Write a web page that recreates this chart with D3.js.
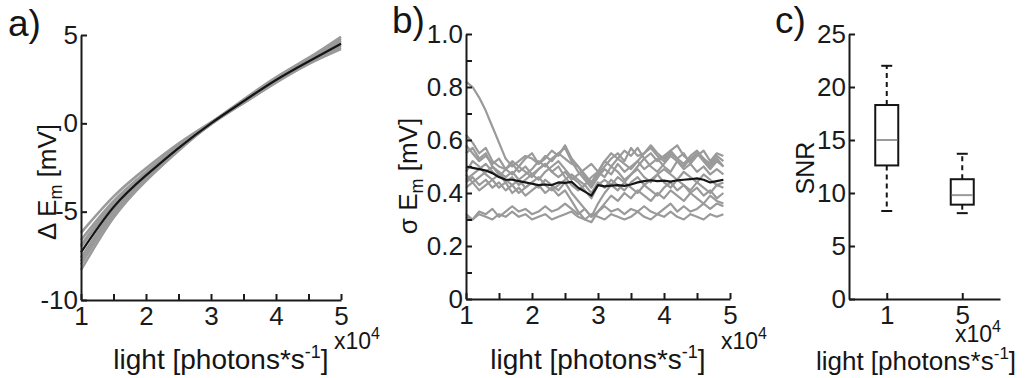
<!DOCTYPE html>
<html>
<head>
<meta charset="utf-8">
<script src="https://cdn.jsdelivr.net/npm/d3@7"></script>
<style>
body { margin: 0; background: #fff; }
svg { font-family: "Liberation Sans", Arial, sans-serif; }
.axis path, .axis line { stroke: #1a1a1a; stroke-width: 2; }
.axis text { font-size: 26px; fill: #1a1a1a; font-family: "Liberation Sans", Arial, sans-serif; }
</style>
</head>
<body>
<svg id="fig" width="1026" height="378"></svg>
<script>
// ---- panel a: mean change of Em vs light ----
var lightA = [1, 1.5, 2, 2.5, 3, 3.5, 4, 4.5, 5];
var meanA = [-7.3, -4.75, -2.95, -1.4, 0, 1.25, 2.45, 3.5, 4.5];
var tracesA = [
    [-6.2, -4.15, -2.55, -1.15, 0.05, 1.2, 2.35, 3.4, 4.4],
    [-6.6, -4.4, -2.75, -1.25, 0.0, 1.25, 2.45, 3.5, 4.6],
    [-7.0, -4.6, -2.85, -1.35, 0.0, 1.3, 2.55, 3.6, 4.7],
    [-7.6, -4.95, -3.05, -1.45, -0.05, 1.25, 2.5, 3.6, 4.8],
    [-8.0, -5.15, -3.15, -1.5, 0.0, 1.2, 2.4, 3.5, 4.5],
    [-8.3, -5.35, -3.25, -1.55, -0.05, 1.15, 2.35, 3.4, 4.3],
    [-6.9, -4.5, -2.8, -1.3, 0.05, 1.35, 2.6, 3.7, 4.9],
    [-7.8, -5.05, -3.1, -1.45, 0.0, 1.15, 2.3, 3.35, 4.2]
];
var xTicksA = [1, 1.5, 2, 2.5, 3, 3.5, 4, 4.5, 5];
var xLabelsA = ["1", "", "2", "", "3", "", "4", "", "5"];
var yTicksA = [-10, -5, 0, 5];
var yLabelsA = ["-10", "-5", "0", "5"];

// ---- panel b: sd of Em vs light ----
var lightB = [1.0, 1.1, 1.2, 1.3, 1.4, 1.5, 1.6, 1.7, 1.8, 1.9,
              2.0, 2.1, 2.2, 2.3, 2.4, 2.5, 2.6, 2.7, 2.8, 2.9,
              3.0, 3.1, 3.2, 3.3, 3.4, 3.5, 3.6, 3.7, 3.8, 3.9,
              4.0, 4.1, 4.2, 4.3, 4.4, 4.5, 4.6, 4.7, 4.8, 4.9];
var meanB = [0.50, 0.495, 0.49, 0.485, 0.475, 0.46, 0.45, 0.45, 0.445, 0.44,
             0.435, 0.43, 0.432, 0.43, 0.44, 0.438, 0.442, 0.42, 0.405, 0.39,
             0.43, 0.425, 0.428, 0.43, 0.427, 0.432, 0.44, 0.445, 0.448, 0.445,
             0.447, 0.443, 0.448, 0.45, 0.452, 0.455, 0.45, 0.44, 0.445, 0.45];
var tracesB = [
    [0.82,0.80,0.76,0.71,0.65,0.59,0.53,0.50,0.52,0.54,0.53,0.51,0.54,0.52,0.55,0.53,0.51,0.50,0.47,0.44,0.48,0.52,0.55,0.53,0.56,0.54,0.57,0.53,0.55,0.52,0.54,0.56,0.53,0.55,0.51,0.54,0.56,0.52,0.55,0.54],
    [0.62,0.59,0.55,0.57,0.52,0.50,0.49,0.52,0.50,0.53,0.55,0.51,0.53,0.56,0.54,0.58,0.53,0.50,0.46,0.43,0.47,0.50,0.53,0.55,0.52,0.57,0.54,0.55,0.58,0.55,0.53,0.56,0.58,0.54,0.52,0.55,0.53,0.50,0.53,0.50],
    [0.55,0.57,0.53,0.55,0.50,0.48,0.46,0.48,0.45,0.47,0.49,0.52,0.50,0.53,0.55,0.57,0.52,0.48,0.45,0.42,0.46,0.49,0.47,0.51,0.48,0.50,0.52,0.49,0.51,0.53,0.50,0.48,0.52,0.49,0.51,0.48,0.50,0.47,0.49,0.47],
    [0.48,0.52,0.50,0.47,0.45,0.47,0.44,0.46,0.43,0.45,0.47,0.45,0.48,0.50,0.52,0.49,0.46,0.44,0.41,0.38,0.43,0.45,0.43,0.46,0.44,0.47,0.49,0.46,0.44,0.47,0.49,0.47,0.45,0.48,0.46,0.44,0.47,0.45,0.43,0.44],
    [0.45,0.47,0.49,0.51,0.48,0.46,0.49,0.47,0.50,0.48,0.46,0.49,0.51,0.48,0.50,0.46,0.43,0.41,0.43,0.40,0.44,0.42,0.45,0.43,0.41,0.44,0.46,0.43,0.45,0.47,0.44,0.42,0.45,0.43,0.41,0.44,0.42,0.40,0.43,0.42],
    [0.44,0.46,0.43,0.45,0.42,0.44,0.41,0.43,0.40,0.42,0.44,0.42,0.45,0.43,0.41,0.44,0.40,0.37,0.34,0.31,0.36,0.40,0.43,0.41,0.44,0.42,0.40,0.43,0.41,0.39,0.42,0.44,0.41,0.43,0.40,0.42,0.39,0.41,0.38,0.40],
    [0.42,0.44,0.41,0.43,0.45,0.42,0.44,0.40,0.42,0.39,0.41,0.43,0.40,0.42,0.39,0.41,0.37,0.33,0.30,0.29,0.33,0.36,0.39,0.37,0.40,0.38,0.41,0.39,0.37,0.40,0.38,0.41,0.39,0.37,0.40,0.38,0.36,0.39,0.37,0.36],
    [0.47,0.44,0.46,0.48,0.50,0.47,0.45,0.43,0.45,0.42,0.44,0.46,0.43,0.41,0.43,0.45,0.47,0.45,0.43,0.46,0.48,0.46,0.50,0.48,0.45,0.47,0.50,0.53,0.50,0.48,0.51,0.54,0.52,0.50,0.53,0.55,0.52,0.49,0.52,0.50],
    [0.32,0.30,0.33,0.32,0.34,0.31,0.33,0.35,0.33,0.34,0.32,0.33,0.35,0.33,0.34,0.36,0.34,0.32,0.34,0.31,0.33,0.35,0.33,0.34,0.32,0.34,0.33,0.35,0.33,0.32,0.34,0.36,0.33,0.35,0.33,0.34,0.36,0.34,0.36,0.35],
    [0.31,0.30,0.32,0.31,0.30,0.32,0.31,0.33,0.31,0.32,0.30,0.31,0.32,0.30,0.31,0.32,0.33,0.31,0.30,0.32,0.31,0.30,0.32,0.31,0.30,0.31,0.33,0.31,0.30,0.32,0.31,0.33,0.31,0.30,0.32,0.31,0.30,0.32,0.31,0.32],
    [0.58,0.55,0.52,0.54,0.51,0.53,0.49,0.51,0.48,0.50,0.47,0.49,0.51,0.48,0.46,0.48,0.45,0.47,0.49,0.51,0.48,0.52,0.50,0.53,0.51,0.49,0.52,0.55,0.57,0.54,0.52,0.55,0.53,0.51,0.54,0.56,0.53,0.51,0.54,0.52]
];
var xTicksB = [1, 1.5, 2, 2.5, 3, 3.5, 4, 4.5, 5];
var xLabelsB = ["1", "", "2", "", "3", "", "4", "", "5"];
var yTicksB = [0, 0.1, 0.2, 0.3, 0.4, 0.5, 0.6, 0.7, 0.8, 0.9, 1.0];
var yLabelsB = ["0", "", "0.2", "", "0.4", "", "0.6", "", "0.8", "", "1.0"];

// ---- panel c: SNR box plots ----
var boxCat = ["1", "5"];
var boxMin = [8.3, 8.1];
var boxQ1 = [12.6, 8.9];
var boxMed = [15.0, 9.8];
var boxQ3 = [18.3, 11.3];
var boxMax = [22.0, 13.7];
var yTicksC = [0, 5, 10, 15, 20, 25];

var svg = d3.select("#fig");
var grey = "#9a9a9a", dark = "#151515";

function fmt(ticks, labels) {
    return function(d) { return labels[ticks.indexOf(d)]; };
}

function xLabel(cx, y, size) {
    var t = svg.append("text").attr("x", cx).attr("y", y)
        .attr("text-anchor", "middle").style("font-size", size + "px").attr("fill", dark);
    t.append("tspan").text("light [photons*s");
    t.append("tspan").attr("dy", -11).style("font-size", Math.round(size * 0.66) + "px").text("-1");
    t.append("tspan").attr("dy", 11).text("]");
}

function expLabel(x, y) {
    var t = svg.append("text").attr("x", x).attr("y", y)
        .style("font-size", "23px").attr("fill", dark);
    t.append("tspan").text("x10");
    t.append("tspan").attr("dy", -10).style("font-size", "16px").text("4");
}

function yLabel(x, cy, sym) {
    var t = svg.append("text").attr("transform", "translate(" + x + "," + cy + ") rotate(-90)")
        .attr("text-anchor", "middle").style("font-size", "26px").attr("fill", dark);
    t.append("tspan").text(sym + " E");
    t.append("tspan").attr("dy", 6).style("font-size", "18px").text("m");
    t.append("tspan").attr("dy", -6).text(" [mV]");
}

function panelTag(x, y, s) {
    svg.append("text").attr("x", x).attr("y", y).style("font-size", "37px")
        .attr("fill", dark).text(s);
}

// panel a
var xa = d3.scaleLinear().domain([1, 5]).range([81, 341]);
var ya = d3.scaleLinear().domain([-10, 5]).range([300, 35]);
var lineA = d3.line()
    .x(function(d, i) { return xa(lightA[i]); })
    .y(function(d) { return ya(d); })
    .curve(d3.curveNatural);

svg.append("g").selectAll("path")
    .data(tracesA)
    .enter().append("path")
    .attr("d", lineA)
    .attr("fill", "none")
    .attr("stroke", grey)
    .attr("stroke-width", 2.6);

svg.append("path")
    .attr("d", lineA(meanA))
    .attr("fill", "none")
    .attr("stroke", dark)
    .attr("stroke-width", 2.2);

svg.append("g").attr("class", "axis")
    .attr("transform", "translate(0,300)")
    .call(d3.axisBottom(xa).tickValues(xTicksA).tickFormat(fmt(xTicksA, xLabelsA))
        .tickSizeInner(-6).tickSizeOuter(0).tickPadding(7));
svg.append("g").attr("class", "axis")
    .attr("transform", "translate(81,0)")
    .call(d3.axisLeft(ya).tickValues(yTicksA).tickFormat(fmt(yTicksA, yLabelsA))
        .tickSizeInner(-6).tickSizeOuter(0).tickPadding(3));

// panel b
var xb = d3.scaleLinear().domain([1, 5]).range([466, 730]);
var yb = d3.scaleLinear().domain([0, 1]).range([299, 34]);
var lineB = d3.line()
    .x(function(d, i) { return xb(lightB[i]); })
    .y(function(d) { return yb(d); });

svg.append("g").selectAll("path")
    .data(tracesB)
    .enter().append("path")
    .attr("d", lineB)
    .attr("fill", "none")
    .attr("stroke", grey)
    .attr("stroke-width", 2.2)
    .attr("stroke-linejoin", "round");

svg.append("path")
    .attr("d", lineB(meanB))
    .attr("fill", "none")
    .attr("stroke", dark)
    .attr("stroke-width", 2.2)
    .attr("stroke-linejoin", "round");

svg.append("g").attr("class", "axis")
    .attr("transform", "translate(0,299)")
    .call(d3.axisBottom(xb).tickValues(xTicksB).tickFormat(fmt(xTicksB, xLabelsB))
        .tickSizeInner(-6).tickSizeOuter(0).tickPadding(7));
svg.append("g").attr("class", "axis")
    .attr("transform", "translate(466,0)")
    .call(d3.axisLeft(yb).tickValues(yTicksB).tickFormat(fmt(yTicksB, yLabelsB))
        .tickSizeInner(-6).tickSizeOuter(0).tickPadding(3));

// panel c
var xc = d3.scalePoint().domain(boxCat).range([849, 1000]).padding(0.5);
var yc = d3.scaleLinear().domain([0, 25]).range([299, 34]);
var boxW = 23, capW = 11;

var box = svg.append("g").selectAll("g")
    .data(boxCat)
    .enter().append("g");

box.append("line")
    .attr("x1", function(d) { return xc(d); }).attr("x2", function(d) { return xc(d); })
    .attr("y1", function(d, i) { return yc(boxQ3[i]); })
    .attr("y2", function(d, i) { return yc(boxMax[i]); })
    .attr("stroke", dark).attr("stroke-width", 2).attr("stroke-dasharray", "5,4");
box.append("line")
    .attr("x1", function(d) { return xc(d); }).attr("x2", function(d) { return xc(d); })
    .attr("y1", function(d, i) { return yc(boxQ1[i]); })
    .attr("y2", function(d, i) { return yc(boxMin[i]); })
    .attr("stroke", dark).attr("stroke-width", 2).attr("stroke-dasharray", "5,4");
box.append("line")
    .attr("x1", function(d) { return xc(d) - capW / 2; }).attr("x2", function(d) { return xc(d) + capW / 2; })
    .attr("y1", function(d, i) { return yc(boxMax[i]); })
    .attr("y2", function(d, i) { return yc(boxMax[i]); })
    .attr("stroke", dark).attr("stroke-width", 2);
box.append("line")
    .attr("x1", function(d) { return xc(d) - capW / 2; }).attr("x2", function(d) { return xc(d) + capW / 2; })
    .attr("y1", function(d, i) { return yc(boxMin[i]); })
    .attr("y2", function(d, i) { return yc(boxMin[i]); })
    .attr("stroke", dark).attr("stroke-width", 2);
box.append("rect")
    .attr("x", function(d) { return xc(d) - boxW / 2; })
    .attr("y", function(d, i) { return yc(boxQ3[i]); })
    .attr("width", boxW)
    .attr("height", function(d, i) { return yc(boxQ1[i]) - yc(boxQ3[i]); })
    .attr("fill", "#fff").attr("stroke", dark).attr("stroke-width", 2);
box.append("line")
    .attr("x1", function(d) { return xc(d) - boxW / 2 + 1; }).attr("x2", function(d) { return xc(d) + boxW / 2 - 1; })
    .attr("y1", function(d, i) { return yc(boxMed[i]); })
    .attr("y2", function(d, i) { return yc(boxMed[i]); })
    .attr("stroke", grey).attr("stroke-width", 2);

svg.append("g").attr("class", "axis")
    .attr("transform", "translate(0,299)")
    .call(d3.axisBottom(xc).tickSizeInner(-6).tickSizeOuter(0).tickPadding(7));
svg.append("g").attr("class", "axis")
    .attr("transform", "translate(849,0)")
    .call(d3.axisLeft(yc).tickValues(yTicksC).tickFormat(d3.format("d"))
        .tickSizeInner(-6).tickSizeOuter(0).tickPadding(3));

// labels
panelTag(8, 36, "a)");
panelTag(392, 33, "b)");
panelTag(775, 33, "c)");

yLabel(56, 182, "\u0394");
yLabel(417, 176, "\u03c3");
svg.append("text").attr("transform", "translate(814,168) rotate(-90)")
    .attr("text-anchor", "middle").style("font-size", "25px").attr("fill", dark).text("SNR");

expLabel(334, 349);
expLabel(721, 349);
expLabel(955, 342);

xLabel(221, 369, 28);
xLabel(598, 369, 28);
xLabel(916, 370, 26);
</script>
</body>
</html>
